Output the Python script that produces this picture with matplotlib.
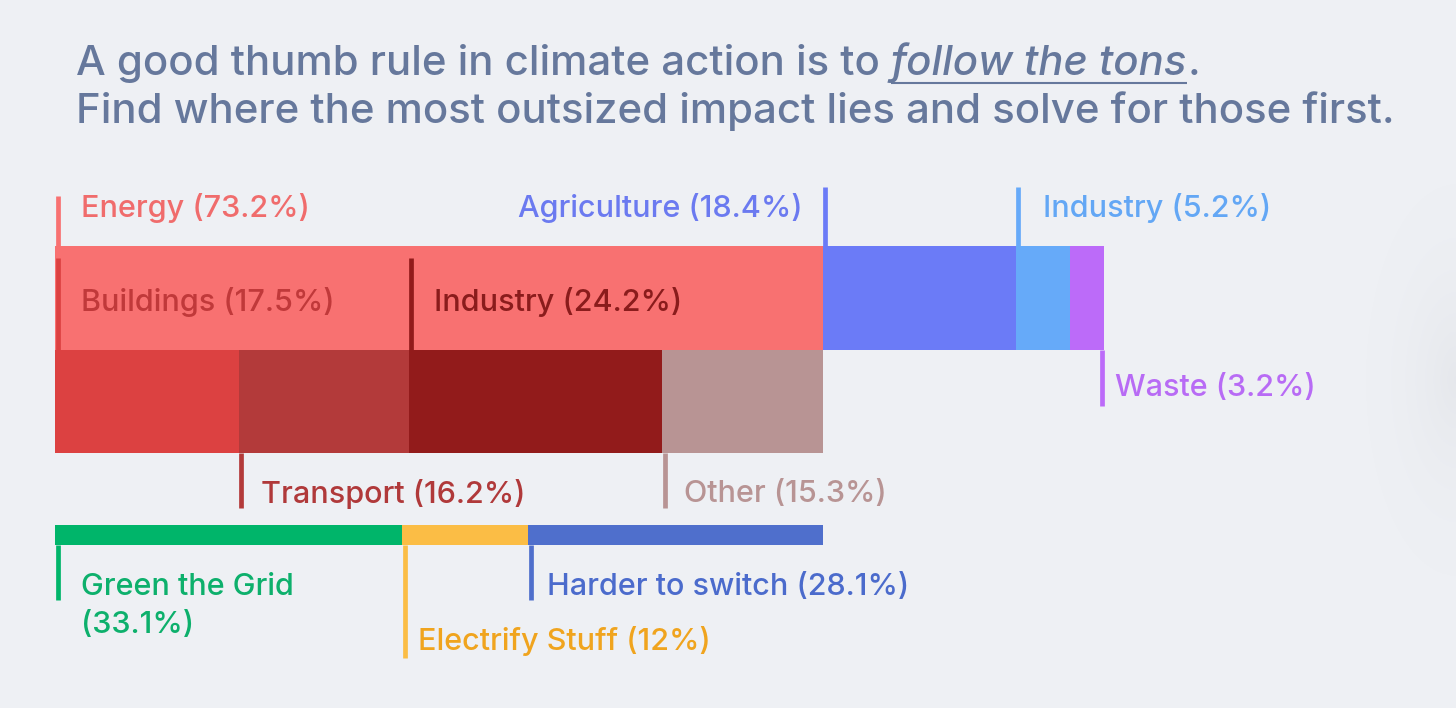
import numpy as np
import matplotlib.pyplot as plt

# emissions share data (percent of global GHG)
sectors = ['Energy', 'Agriculture', 'Industry', 'Waste']
sector_share = [73.2, 18.4, 5.2, 3.2]

energy_parts = ['Buildings', 'Transport', 'Industry', 'Other']
energy_share = [17.5, 16.2, 24.2, 15.3]

solutions = ['Green the Grid', 'Electrify Stuff', 'Harder to switch']
solution_share = [33.1, 12, 28.1]

# styling
bg = '#eef0f4'
title_col = '#66789c'
sector_cols = ['#f87171', '#6b7bf7', '#66aaf9', '#bc6bf9']
sector_txt = ['#f06c6c', '#6b7af0', '#63a7f5', '#b86bf5']
energy_cols = ['#dc4141', '#b33a3a', '#921b1b', '#b89494']
energy_txt = ['#c0393a', '#b0393a', '#8a1c1c', '#b89494']
sol_cols = ['#00b56a', '#fbbd45', '#4f6fcc']
sol_txt = ['#0db06c', '#f0a41e', '#4b6bcc']

W, H = 1456, 708
x0, scale = 55, 10.49   # pixel of 0 %, pixels per %

plt.rcParams['font.family'] = ['Inter', 'DejaVu Sans']
plt.rcParams['font.weight'] = 'medium'
fig = plt.figure(figsize=(W / 100, H / 100), dpi=100, facecolor=bg)
ax = fig.add_axes([0, 0, 1, 1])
ax.set_facecolor(bg)
ax.set_xlim(-x0 / scale, (W - x0) / scale)
ax.set_ylim(H, 0)
ax.axis('off')

# soft shadow at the right edge
gx = np.linspace(0, 1, 200)
gy = np.linspace(0, 1, 200)
GX, GY = np.meshgrid(gx, gy)
d = np.sqrt(((GX - 1.0) / 0.8) ** 2 + ((GY - 0.5) / 0.55) ** 2)
alpha = np.clip(1 - d, 0, 1) ** 2 * 0.35
rgba = np.zeros((200, 200, 4))
rgba[..., :3] = np.array([0.84, 0.85, 0.87])
rgba[..., 3] = alpha
ax.imshow(rgba, extent=((1330 - x0) / scale, (W - x0) / scale, 580, 180),
          aspect='auto', zorder=0)

px = 1 / scale  # one pixel in % units
lw = 3.4
fs = 22.0


def lefts(vals):
    return np.concatenate([[0], np.cumsum(vals)[:-1]])


# rows of bars
sl = lefts(sector_share)
ax.barh(298, sector_share, left=sl, height=104, color=sector_cols, zorder=1)
el = lefts(energy_share)
ax.barh(401.5, energy_share, left=el, height=103, color=energy_cols, zorder=1)
ol = lefts(solution_share)
ax.barh(535, solution_share, left=ol, height=20, color=sol_cols, zorder=1)


def marker(x, y1, y2, col):
    ax.vlines(x, y1, y2, color=col, lw=lw, zorder=3, capstyle='butt')


def label(x, y, s, col, ha='left'):
    ax.text(x, y, s, color=col, fontsize=fs, ha=ha, va='center', zorder=4)


# sector labels
marker(sl[0] + 2.5 * px, 196, 246, sector_cols[0])
label(sl[0] + 26 * px, 208, f'{sectors[0]} ({sector_share[0]}%)', sector_txt[0])
marker(sl[1] + 2 * px, 187, 246, sector_cols[1])
label(sl[1] - 20 * px, 208, f'{sectors[1]} ({sector_share[1]}%)', sector_txt[1], ha='right')
marker(sl[2] + 2.5 * px, 187, 246, sector_cols[2])
label(sl[2] + 27 * px, 208, f'{sectors[2]} ({sector_share[2]}%)', sector_txt[2])
wr = sl[3] + sector_share[3]
marker(wr - 2.5 * px, 350, 406, sector_cols[3])
label(wr + 11 * px, 388, f'{sectors[3]} ({sector_share[3]}%)', sector_txt[3])

# energy breakdown labels
marker(el[0] + 2.5 * px, 258, 350, energy_cols[0])
label(el[0] + 26 * px, 302, f'{energy_parts[0]} ({energy_share[0]}%)', energy_txt[0])
marker(el[1] + 2.5 * px, 453, 508, energy_cols[1])
label(el[1] + 22 * px, 494, f'{energy_parts[1]} ({energy_share[1]}%)', energy_txt[1])
marker(el[2] + 2.5 * px, 258, 350, energy_cols[2])
label(el[2] + 25 * px, 302, f'{energy_parts[2]} ({energy_share[2]}%)', energy_txt[2])
marker(el[3] + 2.5 * px, 453, 508, energy_cols[3])
label(el[3] + 22 * px, 494, f'{energy_parts[3]} ({energy_share[3]}%)', energy_txt[3])

# solution labels
marker(ol[0] + 2.5 * px, 545, 600, sol_cols[0])
label(ol[0] + 26 * px, 587, solutions[0], sol_txt[0])
label(ol[0] + 26 * px, 625, f'({solution_share[0]}%)', sol_txt[0])
marker(ol[1] + 2.5 * px, 545, 658, sol_cols[1])
label(ol[1] + 16 * px, 641, f'{solutions[1]} ({solution_share[1]}%)', sol_txt[1])
marker(ol[2] + 2.5 * px, 545, 600, sol_cols[2])
label(ol[2] + 19 * px, 587, f'{solutions[2]} ({solution_share[2]}%)', sol_txt[2])

# title with italic underlined part
tfs = 30.2
tx = (76 - x0) / scale
r = fig.canvas.get_renderer()
t1 = ax.text(tx, 75, 'A good thumb rule in climate action is to ', color=title_col,
             fontsize=tfs, va='baseline')
bb = t1.get_window_extent(r)
xi = ax.transData.inverted().transform((bb.x1, 0))[0]
t2 = ax.text(xi, 75, 'follow the tons', color=title_col, fontsize=tfs,
             style='italic', va='baseline')
bb2 = t2.get_window_extent(r)
xe = ax.transData.inverted().transform((bb2.x1, 0))[0]
ax.text(xe, 75, '.', color=title_col, fontsize=tfs, va='baseline')
ax.plot([xi, xe], [83, 83], color=title_col, lw=1.5, solid_capstyle='butt')
ax.text(tx, 123, 'Find where the most outsized impact lies and solve for those first.',
        color=title_col, fontsize=tfs, va='baseline')

fig.savefig('out.png', dpi=100, facecolor=bg)
